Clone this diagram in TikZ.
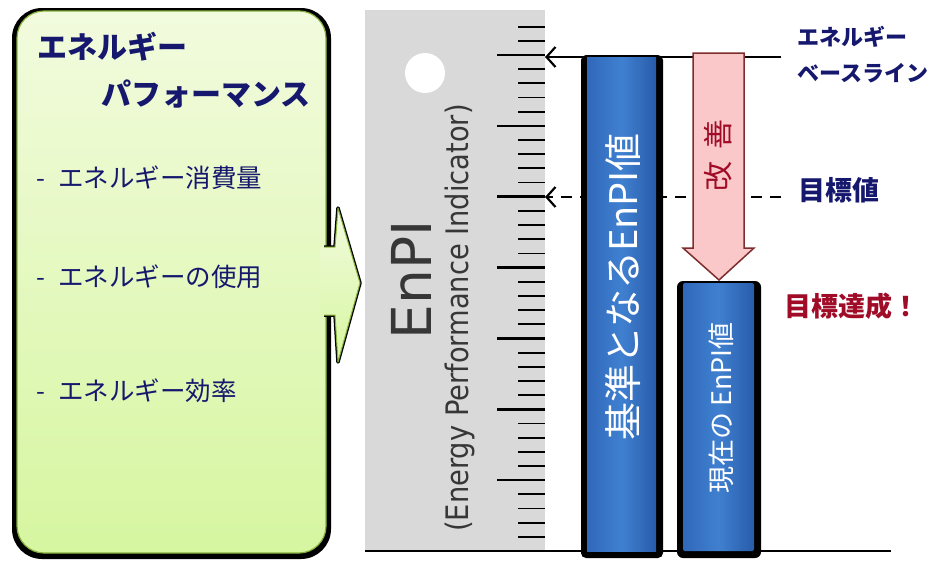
\documentclass[tikz,border=0pt]{standalone}
\usepackage{fontspec}
\newfontfamily\jp{Noto Sans CJK JP}
\newfontfamily\dv{DejaVu Sans}
\usetikzlibrary{arrows.meta}
\definecolor{navy}{RGB}{22,24,110}
\definecolor{darkred}{RGB}{160,12,40}
\definecolor{rulergray}{RGB}{217,217,217}
\definecolor{boxtop}{RGB}{242,251,222}
\definecolor{boxbot}{RGB}{214,246,160}
\definecolor{boxline}{RGB}{135,175,60}
\definecolor{blueL}{RGB}{48,104,186}
\definecolor{blueM}{RGB}{64,128,208}
\definecolor{blueR}{RGB}{40,92,170}
\definecolor{pinkf}{RGB}{250,200,200}
\definecolor{pinkline}{RGB}{125,45,45}
\definecolor{enpigray}{RGB}{55,55,55}
\tikzset{
  jptext/.style={inner sep=0pt, text=navy},
  bartext/.style={inner sep=0pt, text=white, rotate=90},
  bargrad/.style={left color=blueL, right color=blueR, middle color=blueM},
  tickbig/.style={line width=2.6pt},
  ticksmall/.style={line width=1.8pt},
  refline/.style={line width=2.2pt},
  reftip/.style={-{Straight Barb[length=9pt,width=20pt,line width=2.2pt]}},
}
\begin{document}
\begin{tikzpicture}[x=1pt,y=-1pt]
\useasboundingbox (0,0) rectangle (930,562);

% ---------- left box ----------
\fill[black,rounded corners=30pt] (12,8) rectangle (331,559);
\shade[top color=boxtop,bottom color=boxbot,rounded corners=27pt,draw=boxline,line width=1.2pt]
  (17,11) rectangle (326,553);
\node[jptext,anchor=west,font=\jp\bfseries\fontsize{30pt}{30pt}\selectfont] (t1) at (37,47) {エネルギー};
\node[jptext,anchor=west,font=\jp\bfseries\fontsize{30pt}{30pt}\selectfont] (t2) at (101,94) {パフォーマンス};
\node[jptext,anchor=west,font=\jp\fontsize{25.5pt}{25.5pt}\selectfont] (i1) at (36,178) {-\hspace{13pt}エネルギー消費量};
\node[jptext,anchor=west,font=\jp\fontsize{25.5pt}{25.5pt}\selectfont] (i2) at (36,277) {-\hspace{13pt}エネルギーの使用};
\node[jptext,anchor=west,font=\jp\fontsize{25.5pt}{25.5pt}\selectfont] (i3) at (36,391) {-\hspace{13pt}エネルギー効率};

% ---------- green arrow ----------
\draw[black,line width=3.5pt,line join=round]
  (324,247) -- (335,247) -- (338,208) -- (360,283) -- (338,362) -- (335,315) -- (324,315);
\shade[top color=boxtop,bottom color=boxbot]
  (320,247) -- (335,247) -- (338,208) -- (360,283) -- (338,362) -- (335,315) -- (320,315) -- cycle;
\draw[boxline,line width=1pt,line join=round]
  (324,247) -- (335,247) -- (338,208) -- (360,283) -- (338,362) -- (335,315) -- (324,315);

% ---------- ruler ----------
\fill[rulergray] (365,10) rectangle (545,551);
\fill[white] (425,73) circle (20);
\foreach \k in {0,...,7}{
  \draw[tickbig] (497,55+70.86*\k) -- (545,55+70.86*\k);
}
\foreach \j in {-2,...,34}{
  \pgfmathtruncatemacro{\m}{mod(\j+10,5)}
  \ifnum\m>0
    \draw[ticksmall] (518,55+14.172*\j) -- (545,55+14.172*\j);
  \fi
}
\node[inner sep=0pt,rotate=90,anchor=south,text=enpigray,font=\dv\fontsize{55pt}{55pt}\selectfont] (enpi) at (432,280) {EnPI};
\node[inner sep=0pt,rotate=90,anchor=base,text=enpigray,font=\dv\fontsize{31pt}{31pt}\selectfont] (enpisub) at (468,318) {\scalebox{0.88}[1]{(Energy Performance Indicator)}};

% ---------- reference lines ----------
\coordinate (baseEnd) at (781,57);
\coordinate (baseTip) at (545,57);
\coordinate (tgtEnd) at (781,197);
\coordinate (tgtTip) at (545,197);
\coordinate (axL) at (365,551);
\coordinate (axR) at (891,551);
\draw[line width=1.6pt] (axL) -- (axR);
\draw[refline,reftip] (baseEnd) -- (baseTip);
\draw[refline,reftip,dash pattern=on 11pt off 8pt] (tgtEnd) -- (tgtTip);

% ---------- bars ----------
\fill[black,rounded corners=5pt] (581,55) rectangle (663,558);
\shade[bargrad] (587,57) rectangle (656,551);
\node[bartext,font=\jp\fontsize{38pt}{38pt}\selectfont] (b1) at (623,287) {基準となるEnPI値};

\fill[black,rounded corners=6pt] (677,281) rectangle (761,558);
\shade[bargrad,rounded corners=2pt] (683,283) rectangle (754,551);
\node[bartext,font=\jp\fontsize{27pt}{27pt}\selectfont] (b2) at (721,408) {現在の EnPI値};

% ---------- improvement arrow ----------
\draw[fill=pinkf,draw=pinkline,line width=1.5pt,line join=miter]
  (693,53) -- (744,53) -- (744,248) -- (754,248) -- (719,280) -- (683,248) -- (693,248) -- cycle;
\node[inner sep=0pt,rotate=90,text=darkred,font=\jp\fontsize{30pt}{30pt}\selectfont] (kaizen) at (718,155) {改\hspace{12pt}善};

% ---------- right labels ----------
\node[jptext,anchor=west,font=\jp\bfseries\fontsize{22pt}{22pt}\selectfont] (lb1) at (797,37) {エネルギー};
\node[jptext,anchor=west,font=\jp\bfseries\fontsize{22pt}{22pt}\selectfont] (lb2) at (797,73) {ベースライン};
\node[jptext,anchor=west,font=\jp\bfseries\fontsize{27pt}{27pt}\selectfont] (lt) at (798,190) {目標値};
\node[inner sep=0pt,anchor=west,text=darkred,font=\jp\bfseries\fontsize{27pt}{27pt}\selectfont] (done) at (784,306) {目標達成！};
\end{tikzpicture}
\end{document}
